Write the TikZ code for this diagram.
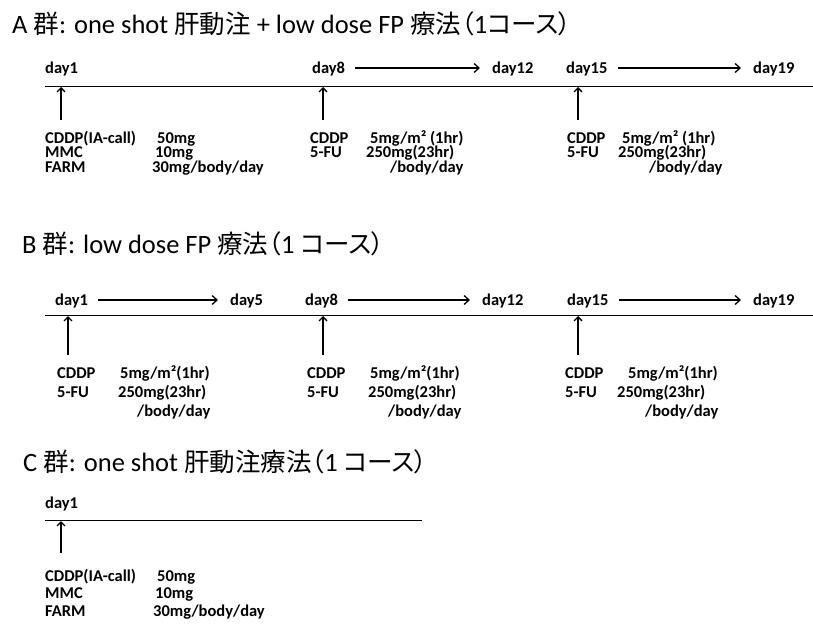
\documentclass[tikz,border=0pt]{standalone}
\usepackage{fontspec}
\setmainfont{Carlito}
\newfontfamily\cjk{Noto Sans CJK JP}[RawFeature=+palt]
\newcommand{\jtxt}[1]{{\cjk\fontsize{25.5}{27}\selectfont #1}}
\usetikzlibrary{arrows.meta}
\begin{document}
\begin{tikzpicture}[x=1pt,y=-1pt,
  lbl/.style={anchor=west,inner sep=0pt,font=\bfseries\fontsize{16.5}{18}\selectfont,text height=10.6pt,text depth=0pt},
  ttl/.style={anchor=base west,inner sep=0pt,font=\fontsize{26.5}{30}\selectfont},
  tline/.style={line width=1pt},
  dayarr/.style={line width=1.3pt,-{Straight Barb[length=5pt,width=9pt]},shorten <=10pt,shorten >=12pt},
  uparr/.style={line width=1.3pt,-{Straight Barb[length=4pt,width=8pt]}}]
\useasboundingbox (0,0) rectangle (813,626);

% ---------- A ----------
\node[ttl] (tA) at (12,34) {A \jtxt{群}: one shot \jtxt{肝動注} + low dose FP \jtxt{療法（}1\jtxt{コース）}};
\node[lbl] (A1) at (45,68) {day1};
\node[lbl] (A8) at (312,68) {day8};
\node[lbl] (A12) at (492,68) {day12};
\node[lbl] (A15) at (566,68) {day15};
\node[lbl] (A19) at (753,68) {day19};
\draw[dayarr] (A8) -- (A12);
\draw[dayarr] (A15) -- (A19);
\coordinate (AL) at (45,86);
\coordinate (AR) at (813,86);
\draw[tline] (AL) -- (AR);
\coordinate (Ab1) at (61,120);  \coordinate (At1) at (61,87);
\coordinate (Ab8) at (323,120); \coordinate (At8) at (323,87);
\coordinate (Ab15) at (578,120); \coordinate (At15) at (578,87);
\draw[uparr] (Ab1) -- (At1);
\draw[uparr] (Ab8) -- (At8);
\draw[uparr] (Ab15) -- (At15);
\node[lbl] (Ac1) at (45,138) {CDDP(IA-call)};
\node[lbl] (Av1) at (157,138) {50mg};
\node[lbl] (Ac2) at (45,152.5) {MMC};
\node[lbl] (Av2) at (155,152.5) {10mg};
\node[lbl] (Ac3) at (45,167) {FARM};
\node[lbl] (Av3) at (152,167) {30mg/body/day};
\node[lbl] (A8c1) at (310,138) {CDDP};
\node[lbl] (A8v1) at (370,138) {5mg/m² (1hr)};
\node[lbl] (A8c2) at (310,152.5) {5-FU};
\node[lbl] (A8v2) at (366,152.5) {250mg(23hr)};
\node[lbl] (A8v3) at (390,167) {/body/day};
\node[lbl] (A15c1) at (567,138) {CDDP};
\node[lbl] (A15v1) at (622,138) {5mg/m² (1hr)};
\node[lbl] (A15c2) at (567,152.5) {5-FU};
\node[lbl] (A15v2) at (618,152.5) {250mg(23hr)};
\node[lbl] (A15v3) at (649,167) {/body/day};

% ---------- B ----------
\node[ttl] (tB) at (22,253) {B \jtxt{群}: low dose FP \jtxt{療法（}1 \jtxt{コース）}};
\node[lbl] (B1) at (55,300) {day1};
\node[lbl] (B5) at (230,300) {day5};
\node[lbl] (B8) at (305,300) {day8};
\node[lbl] (B12) at (482,300) {day12};
\node[lbl] (B15) at (567,300) {day15};
\node[lbl] (B19) at (753,300) {day19};
\draw[dayarr] (B1) -- (B5);
\draw[dayarr] (B8) -- (B12);
\draw[dayarr] (B15) -- (B19);
\coordinate (BL) at (45,315);
\coordinate (BR) at (813,315);
\draw[tline] (BL) -- (BR);
\coordinate (Bb1) at (68,355);  \coordinate (Bt1) at (68,316);
\coordinate (Bb8) at (323,355); \coordinate (Bt8) at (323,316);
\coordinate (Bb15) at (578,355); \coordinate (Bt15) at (578,316);
\draw[uparr] (Bb1) -- (Bt1);
\draw[uparr] (Bb8) -- (Bt8);
\draw[uparr] (Bb15) -- (Bt15);
\node[lbl] (B1c1) at (57,373) {CDDP};
\node[lbl] (B1v1) at (120,373) {5mg/m²(1hr)};
\node[lbl] (B1c2) at (57,392) {5-FU};
\node[lbl] (B1v2) at (118,392) {250mg(23hr)};
\node[lbl] (B1v3) at (137,411) {/body/day};
\node[lbl] (B8c1) at (307,373) {CDDP};
\node[lbl] (B8v1) at (370,373) {5mg/m²(1hr)};
\node[lbl] (B8c2) at (307,392) {5-FU};
\node[lbl] (B8v2) at (368,392) {250mg(23hr)};
\node[lbl] (B8v3) at (388,411) {/body/day};
\node[lbl] (B15c1) at (565,373) {CDDP};
\node[lbl] (B15v1) at (628,373) {5mg/m²(1hr)};
\node[lbl] (B15c2) at (565,392) {5-FU};
\node[lbl] (B15v2) at (617,392) {250mg(23hr)};
\node[lbl] (B15v3) at (645,411) {/body/day};

% ---------- C ----------
\node[ttl] (tC) at (23,471) {C \jtxt{群}: one shot \jtxt{肝動注療法（}1 \jtxt{コース）}};
\node[lbl] (C1) at (45,503) {day1};
\coordinate (CL) at (45,520);
\coordinate (CR) at (422,520);
\draw[tline] (CL) -- (CR);
\coordinate (Cb1) at (61,553); \coordinate (Ct1) at (61,521);
\draw[uparr] (Cb1) -- (Ct1);
\node[lbl] (Cc1) at (45,576) {CDDP(IA-call)};
\node[lbl] (Cv1) at (157,576) {50mg};
\node[lbl] (Cc2) at (45,593.5) {MMC};
\node[lbl] (Cv2) at (155,593.5) {10mg};
\node[lbl] (Cc3) at (45,611) {FARM};
\node[lbl] (Cv3) at (153,611) {30mg/body/day};
\end{tikzpicture}
\end{document}
